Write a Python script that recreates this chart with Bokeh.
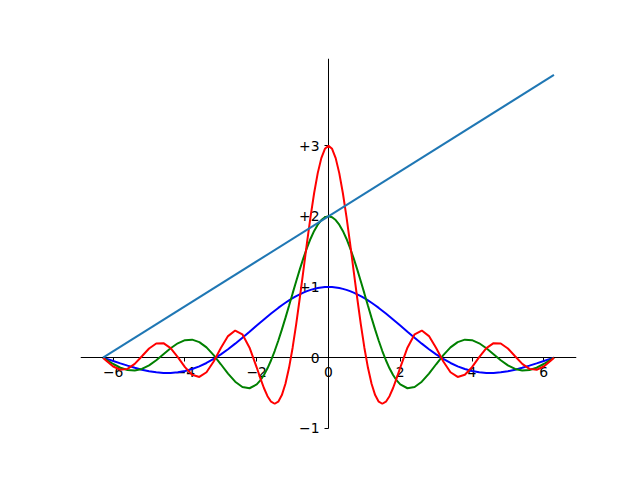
from bokeh.plotting import figure
from bokeh.models import Range1d, FixedTicker
from bokeh.embed import file_html
from bokeh.resources import INLINE

# x samples (radians)
x = [-6.2832, -6.2, -6.0, -5.8, -5.6, -5.4, -5.2, -5.0, -4.8, -4.6, -4.4, -4.2, -4.0,
     -3.8, -3.6, -3.4, -3.2, -3.0, -2.8, -2.6, -2.4, -2.2, -2.0,
     -1.9, -1.8, -1.7, -1.6, -1.5, -1.4, -1.3, -1.2, -1.1, -1.0,
     -0.9, -0.8, -0.7, -0.6, -0.5, -0.4, -0.3, -0.2, -0.1,
     0.0,
     0.1, 0.2, 0.3, 0.4, 0.5, 0.6, 0.7, 0.8, 0.9, 1.0,
     1.1, 1.2, 1.3, 1.4, 1.5, 1.6, 1.7, 1.8, 1.9, 2.0,
     2.2, 2.4, 2.6, 2.8, 3.0, 3.2, 3.4, 3.6, 3.8, 4.0,
     4.2, 4.4, 4.6, 4.8, 5.0, 5.2, 5.4, 5.6, 5.8, 6.0, 6.2, 6.2832]

# blue curve
y_blue = [0.0, -0.0134, -0.0466, -0.0801, -0.1127, -0.1431, -0.1699, -0.1918, -0.2075, -0.2160,
          -0.2163, -0.2075, -0.1892, -0.1610, -0.1229, -0.0752, -0.0182, 0.0470, 0.1196, 0.1983,
          0.2814, 0.3675, 0.4546, 0.4981, 0.5410, 0.5833, 0.6247, 0.6650, 0.7039, 0.7412,
          0.7767, 0.8102, 0.8415, 0.8704, 0.8967, 0.9203, 0.9411, 0.9589, 0.9735, 0.9851,
          0.9933, 0.9983,
          1.0,
          0.9983, 0.9933, 0.9851, 0.9735, 0.9589, 0.9411, 0.9203, 0.8967, 0.8704, 0.8415,
          0.8102, 0.7767, 0.7412, 0.7039, 0.6650, 0.6247, 0.5833, 0.5410, 0.4981, 0.4546,
          0.3675, 0.2814, 0.1983, 0.1196, 0.0470, -0.0182, -0.0752, -0.1229, -0.1610, -0.1892,
          -0.2075, -0.2163, -0.2160, -0.2075, -0.1918, -0.1699, -0.1431, -0.1127, -0.0801, -0.0466,
          -0.0134, 0.0]

# green curve
y_green = [0.0, -0.0267, -0.0894, -0.1419, -0.1749, -0.1817, -0.1590, -0.1088, -0.0363, 0.0485,
           0.1329, 0.2035, 0.2473, 0.2547, 0.2205, 0.1453, 0.0364, -0.0931, -0.2255, -0.3398,
           -0.4151, -0.4325, -0.3784, -0.3220, -0.2458, -0.1503, -0.0365, 0.0941, 0.2393, 0.3965,
           0.5629, 0.7350, 0.9093, 1.0821, 1.2495, 1.4078, 1.5534, 1.6829, 1.7934, 1.8821,
           1.9471, 1.9867,
           2.0,
           1.9867, 1.9471, 1.8821, 1.7934, 1.6829, 1.5534, 1.4078, 1.2495, 1.0821, 0.9093,
           0.7350, 0.5629, 0.3965, 0.2393, 0.0941, -0.0365, -0.1503, -0.2458, -0.3220, -0.3784,
           -0.4325, -0.4151, -0.3398, -0.2255, -0.0931, 0.0364, 0.1453, 0.2205, 0.2547, 0.2473,
           0.2035, 0.1329, 0.0485, -0.0363, -0.1088, -0.1590, -0.1817, -0.1749, -0.1419, -0.0894,
           -0.0267, 0.0]

# red curve
y_red = [0.0, -0.0398, -0.1252, -0.1711, -0.1585, -0.0875, 0.0207, 0.1301, 0.2012, 0.2052,
         0.1346, 0.0080, -0.1341, -0.2419, -0.2725, -0.2058, -0.0545, 0.1374, 0.3052, 0.3841,
         0.3307, 0.1416, -0.1397, -0.2898, -0.4293, -0.5446, -0.6226, -0.6517, -0.6226, -0.5291,
         -0.3688, -0.1434, 0.1411, 0.4749, 0.8443, 1.2332, 1.6231, 1.9950, 2.3301, 2.6111,
         2.8232, 2.9552,
         3.0,
         2.9552, 2.8232, 2.6111, 2.3301, 1.9950, 1.6231, 1.2332, 0.8443, 0.4749, 0.1411,
         -0.1434, -0.3688, -0.5291, -0.6226, -0.6517, -0.6226, -0.5446, -0.4293, -0.2898, -0.1397,
         0.1416, 0.3307, 0.3841, 0.3052, 0.1374, -0.0545, -0.2058, -0.2725, -0.2419, -0.1341,
         0.0080, 0.1346, 0.2052, 0.2012, 0.1301, 0.0207, -0.0875, -0.1585, -0.1711, -0.1252,
         -0.0398, 0.0]

# straight line
line_x = [-6.2832, 6.2832]
line_y = [0.0, 4.0]

x_ticks = [-6, -4, -2, 0, 2, 4, 6]
x_tick_labels = ["\u22126", "\u22124", "\u22122", "0", "2", "4", "6"]
y_ticks = [-1, 0, 1, 2, 3]
y_tick_labels = ["\u22121", "0", "+1", "+2", "+3"]

p = figure(width=640, height=480, output_backend="svg", toolbar_location=None,
           x_range=Range1d(-6.9115, 6.9115), y_range=Range1d(-1.2, 4.2326),
           min_border_left=80, min_border_right=64, min_border_top=58, min_border_bottom=38)
p.grid.visible = False
p.outline_line_color = None
p.background_fill_color = "white"
p.border_fill_color = "white"

p.line(x, y_blue, line_color="#0000ff", line_width=2)
p.line(x, y_green, line_color="#008000", line_width=2)
p.line(x, y_red, line_color="#ff0000", line_width=2)
p.line(line_x, line_y, line_color="#1f77b4", line_width=2)

p.xaxis.fixed_location = 0
p.yaxis.fixed_location = 0
p.yaxis.bounds = (-1.0, 4.2326)
p.xaxis.ticker = FixedTicker(ticks=x_ticks)
p.yaxis.ticker = FixedTicker(ticks=y_ticks)
p.xaxis.major_label_overrides = {t: l for t, l in zip(x_ticks, x_tick_labels)}
p.yaxis.major_label_overrides = {t: l for t, l in zip(y_ticks, y_tick_labels)}

for ax in (p.xaxis, p.yaxis):
    ax.level = "underlay"
    ax.axis_line_color = "black"
    ax.axis_line_width = 1
    ax.major_tick_line_color = "black"
    ax.major_tick_line_width = 1
    ax.major_tick_in = 0
    ax.major_tick_out = 4
    ax.minor_tick_line_color = None
    ax.major_label_text_color = "black"
    ax.major_label_text_font = "DejaVu Sans"
    ax.major_label_text_font_size = "13.9px"
    ax.major_label_standoff = 5

open("out.html", "w").write(file_html(p, INLINE))
